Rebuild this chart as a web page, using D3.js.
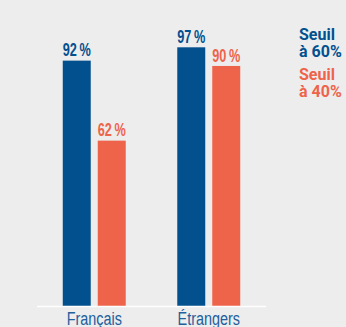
<!DOCTYPE html>
<html>
<head>
<meta charset="utf-8">
<script src="https://cdn.jsdelivr.net/npm/d3@7"></script>
<style>
  html, body { margin: 0; padding: 0; background: #ededed; }
  svg { display: block; }
  .val { font-family: "Liberation Sans", Arial, sans-serif; font-weight: bold; font-size: 17.5px; }
  .cat { font-family: "Liberation Sans", Arial, sans-serif; font-size: 18px; }
  .leg { font-family: Roboto, "Liberation Sans", sans-serif; font-weight: bold; font-size: 16px; }
</style>
</head>
<body>
<svg id="chart" width="346" height="327"></svg>
<script>
// Taux par groupe, selon le seuil retenu
const categories = ["Français", "Étrangers"];
const series = ["Seuil à 60%", "Seuil à 40%"];
const seuil60 = [92, 97];
const seuil40 = [62, 90];
const colors = ["#03508f", "#ee644a"];

const values = [seuil60, seuil40];
const rows = categories.map((c, i) => ({
  cat: c,
  vals: series.map((s, j) => ({ key: s, value: values[j][i], color: colors[j] }))
}));

// narrow type look: squeeze a label horizontally
function condense(sel, ratio) {
  sel.each(function () {
    const w = this.getComputedTextLength() * ratio;
    d3.select(this).attr("textLength", w).attr("lengthAdjust", "spacingAndGlyphs");
  });
}

const svg = d3.select("#chart");

const baseY = 306;
const y = d3.scaleLinear().domain([0, 100]).range([baseY, baseY - 266.7]);

const x0 = d3.scaleBand().domain(categories).range([37, 266])
  .paddingInner(0.45).paddingOuter(0.225);
const x1 = d3.scaleBand().domain(series).range([0, x0.bandwidth()]).paddingInner(0.2);

const groups = svg.selectAll("g.grp").data(rows).join("g")
  .attr("class", "grp")
  .attr("transform", d => `translate(${x0(d.cat)},0)`);

groups.selectAll("rect").data(d => d.vals).join("rect")
  .attr("x", d => x1(d.key))
  .attr("width", x1.bandwidth())
  .attr("y", d => y(d.value))
  .attr("height", d => y(0) - y(d.value))
  .attr("fill", d => d.color);

// value labels span the width of their bar
groups.selectAll("text.val").data(d => d.vals).join("text")
  .attr("class", "val")
  .attr("x", d => x1(d.key) + x1.bandwidth() / 2)
  .attr("y", d => y(d.value) - 4.3)
  .attr("text-anchor", "middle")
  .attr("fill", d => d.color)
  .attr("textLength", x1.bandwidth())
  .attr("lengthAdjust", "spacingAndGlyphs")
  .text(d => `${d.value}\u2009%`);

// baseline
svg.append("line")
  .attr("x1", 37).attr("x2", 266)
  .attr("y1", baseY + 0.5).attr("y2", baseY + 0.5)
  .attr("stroke", "#ffffff").attr("stroke-width", 1.5);

// category axis
const xAxis = d3.axisBottom(x0).tickSize(0).tickPadding(0);
const ax = svg.append("g").attr("transform", `translate(0,${baseY})`).call(xAxis);
ax.select(".domain").remove();
ax.attr("font-family", null).attr("font-size", null);
ax.selectAll("text")
  .attr("class", "cat")
  .attr("dy", null)
  .attr("y", 18.5)
  .attr("fill", "#22609d")
  .call(condense, 0.8);

// legend
const leg = svg.append("g").attr("transform", "translate(299,0)");
const legY = [[39.5, 56.5], [80, 96.8]];
series.forEach((s, i) => {
  const parts = s.split(" à ");
  leg.append("text").attr("class", "leg").attr("fill", colors[i])
    .attr("x", 0).attr("y", legY[i][0]).text(parts[0]);
  leg.append("text").attr("class", "leg").attr("fill", colors[i])
    .attr("x", 0).attr("y", legY[i][1]).text("à " + parts[1]);
});
</script>
</body>
</html>
